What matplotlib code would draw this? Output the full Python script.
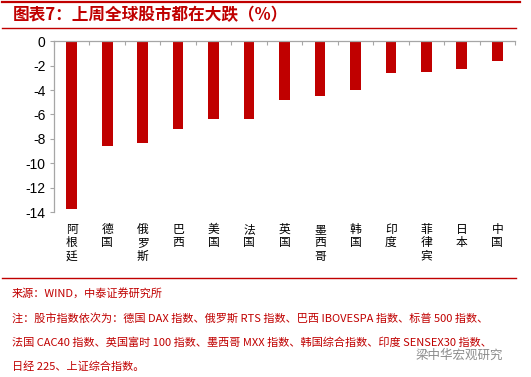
import matplotlib
matplotlib.use("Agg")
import matplotlib.pyplot as plt
from matplotlib.lines import Line2D

plt.rcParams['font.family'] = ['Noto Sans CJK SC', 'DejaVu Sans']

categories = ["阿根廷", "德国", "俄罗斯", "巴西", "美国", "法国", "英国",
              "墨西哥", "韩国", "印度", "菲律宾", "日本", "中国"]
values = [-13.73, -8.56, -8.37, -7.17, -6.40, -6.40, -4.84,
          -4.46, -3.97, -2.57, -2.49, -2.30, -1.59]
yticks = [0, -2, -4, -6, -8, -10, -12, -14]

title = "图表7：上周全球股市都在大跌（%）"
source = "来源：WIND，中泰证券研究所"
notes = ["注：股市指数依次为：德国 DAX 指数、俄罗斯 RTS 指数、巴西 IBOVESPA 指数、标普 500 指数、",
         "法国 CAC40 指数、英国富时 100 指数、墨西哥 MXX 指数、韩国综合指数、印度 SENSEX30 指数、",
         "日经 225、上证综合指数。"]
watermark = "梁中华宏观研究"

W, H = 531, 377
RED = "#C00000"
GRAY = "#A6A6A6"

fig = plt.figure(figsize=(W / 100, H / 100), dpi=100)

def fx(px):
    return px / W

def fy(py):
    return 1 - py / H

left, right, top, bottom = 54, 515, 41.3, 212
ax = fig.add_axes([fx(left), fy(bottom), fx(right - left), (bottom - top) / H])

x = list(range(len(categories)))
ax.bar(x, values, width=0.30, color=RED, zorder=2)
ax.set_xlim(-0.5, len(categories) - 0.5)
ax.set_ylim(-14, 0)
ax.set_yticks(yticks)
ax.set_yticklabels([str(v) for v in yticks], fontfamily='Liberation Sans', fontsize=10)

ax.set_xticks(x)
ax.set_xticklabels(["\n".join(c) for c in categories], fontsize=8.5, linespacing=1.02,
                   va='top')
ax.tick_params(axis='x', which='major', length=0, pad=8)
ax.tick_params(axis='y', length=3, color=GRAY, width=0.8, pad=3)

for s in ['right', 'bottom']:
    ax.spines[s].set_visible(False)
ax.spines['left'].set_color(GRAY)
ax.spines['top'].set_color(GRAY)
ax.spines['left'].set_linewidth(0.9)
ax.spines['top'].set_linewidth(0.9)

# category boundary ticks on the zero line
bounds = [i + 0.5 for i in range(-1, len(categories))]
ax.set_xticks(bounds, minor=True)
ax.tick_params(axis='x', which='minor', top=True, bottom=False, direction='in',
               length=3, color=GRAY, width=0.8)

# decoration lines
fig.add_artist(Line2D([fx(2), fx(520)], [fy(2), fy(2)], color=RED, lw=1.6))
fig.add_artist(Line2D([fx(2), fx(516)], [fy(28), fy(28)], color=RED, lw=1.0))
fig.add_artist(Line2D([fx(2), fx(516)], [fy(278), fy(278)], color=RED, lw=1.0))

fig.text(fx(13), fy(15), title, color=RED, fontsize=12, fontweight='bold',
         style='italic', va='center', ha='left')

fig.text(fx(12), fy(293), source, color=RED, fontsize=8, va='center', ha='left')
for i, line in enumerate(notes):
    fig.text(fx(12), fy(318 + 24.5 * i), line, color=RED, fontsize=8,
             va='center', ha='left')

fig.text(fx(416), fy(355), watermark, color="#8C8C8C", fontsize=9,
         va='center', ha='left')

fig.savefig("out.png", dpi=100)
